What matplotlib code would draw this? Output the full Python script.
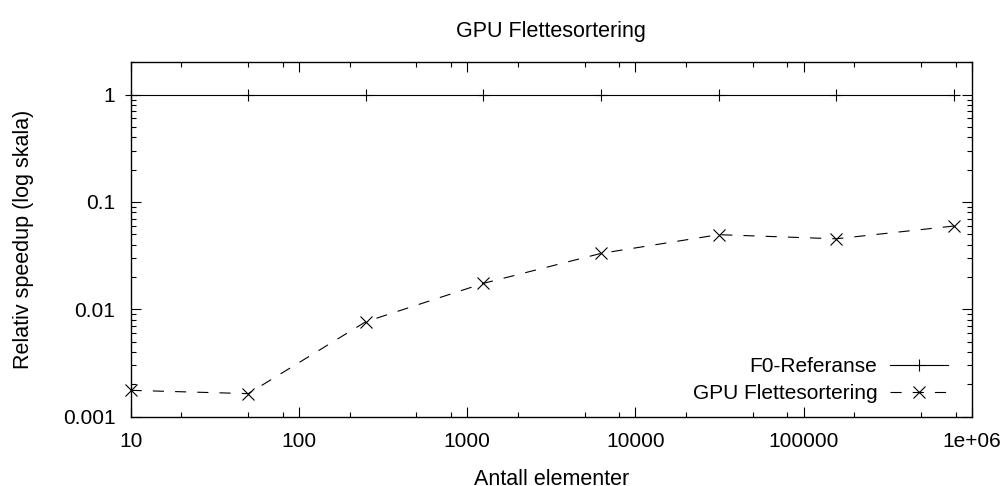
import matplotlib
matplotlib.use("Agg")
import matplotlib.pyplot as plt
from matplotlib.ticker import LogLocator, NullFormatter, FixedLocator, FixedFormatter

plt.rcParams['font.family'] = ['Liberation Sans', 'DejaVu Sans']

elements = [10, 50, 250, 1250, 6250, 31250, 156250, 781250]
reference = [1, 1, 1, 1, 1, 1, 1, 1]
gpu_merge = [0.00176, 0.00164, 0.00767, 0.01746, 0.0332, 0.0496, 0.0454, 0.0597]

x_ticks = [10, 100, 1000, 10000, 100000, 1000000]
x_labels = ["10", "100", "1000", "10000", "100000", "1e+06"]
y_ticks = [0.001, 0.01, 0.1, 1]
y_labels = ["0.001", "0.01", "0.1", "1"]

fs = 15
fig = plt.figure(figsize=(10.05, 4.86), dpi=100)
ax = fig.add_axes([0.130, 0.1426, 0.837, 0.7292])

ax.plot(elements, reference, color='black', lw=0.8, marker='+', ms=9,
        mew=0.8, clip_on=False, label='F0-Referanse')
ax.plot(elements, gpu_merge, color='black', lw=0.8, ls=(0, (10, 10)),
        marker='x', ms=8.5, mew=0.8, clip_on=False, label='GPU Flettesortering')

ax.set_xscale('log')
ax.set_yscale('log')
ax.set_xlim(10, 1e6)
ax.set_ylim(0.001, 2)

ax.xaxis.set_major_locator(FixedLocator(x_ticks))
ax.xaxis.set_major_formatter(FixedFormatter(x_labels))
ax.xaxis.set_minor_locator(LogLocator(base=10, subs=(2, 5, 8), numticks=20))
ax.xaxis.set_minor_formatter(NullFormatter())
ax.yaxis.set_major_locator(FixedLocator(y_ticks))
ax.yaxis.set_major_formatter(FixedFormatter(y_labels))
ax.yaxis.set_minor_locator(LogLocator(base=10, subs=range(2, 10), numticks=20))
ax.yaxis.set_minor_formatter(NullFormatter())

ax.tick_params(which='both', direction='in', top=True, right=True, width=0.8,
               labelsize=fs, colors='black')
ax.tick_params(which='major', length=7.2)
ax.tick_params(which='minor', length=3.6)
ax.tick_params(axis='x', which='major', pad=11)
ax.tick_params(axis='y', which='major', pad=11)
for s in ax.spines.values():
    s.set_linewidth(1.0)
    s.set_color('black')

ax.set_title('GPU Flettesortering', fontsize=15.5, pad=18)
ax.set_xlabel('Antall elementer', fontsize=15.5, labelpad=13)
ax.set_ylabel('Relativ speedup (log skala)', fontsize=15.5, labelpad=21)

leg = ax.legend(loc='lower right', bbox_to_anchor=(0.9715, 0.038),
                frameon=False, markerfirst=False, fontsize=fs,
                handlelength=2.8, handletextpad=0.58, labelspacing=0.38,
                borderpad=0, borderaxespad=0)
for t in leg.get_texts():
    t.set_ha('right')

fig.savefig('out.png', dpi=100)
